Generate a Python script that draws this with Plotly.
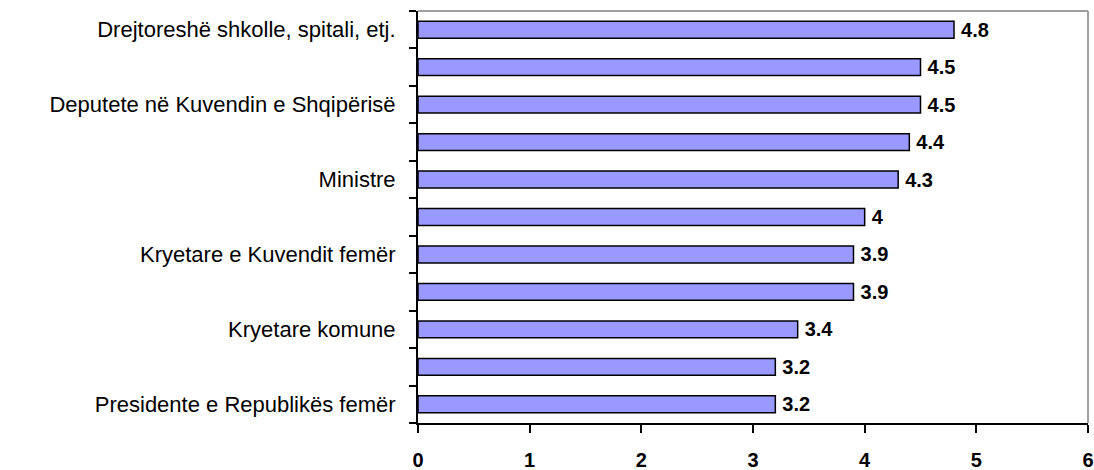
import plotly.graph_objects as go

# top-to-bottom order
labels = ["Drejtoreshë shkolle, spitali, etj.", "", "Deputete në Kuvendin e Shqipërisë", "",
          "Ministre", "", "Kryetare e Kuvendit femër", "", "Kryetare komune", "",
          "Presidente e Republikës femër"]
values = [4.8, 4.5, 4.5, 4.4, 4.3, 4.0, 3.9, 3.9, 3.4, 3.2, 3.2]
x_ticks = [0, 1, 2, 3, 4, 5, 6]

pos = list(range(len(values)))

fig = go.Figure(go.Bar(
    x=values, y=pos, orientation="h",
    width=0.45,
    marker=dict(color="#9999FF", line=dict(color="black", width=1.5)),
    text=[f"\u2009{v:g}" for v in values], textposition="outside",
    constraintext="none",
    textfont=dict(family="Liberation Sans, Arial", size=20, color="black", weight="bold"),
    cliponaxis=False,
))

fig.update_layout(
    width=1094, height=470,
    autosize=False,
    margin=dict(l=418, r=6, t=11, b=47, autoexpand=False),
    plot_bgcolor="white", paper_bgcolor="white",
    showlegend=False,
    font=dict(family="Liberation Sans, Arial", color="black"),
    shapes=[
        dict(type="line", xref="x domain", yref="y domain", x0=0, x1=1, y0=1, y1=1,
             line=dict(color="#A0A0A0", width=2), layer="above"),
        dict(type="line", xref="x domain", yref="y domain", x0=1, x1=1, y0=0, y1=1,
             line=dict(color="#A0A0A0", width=2), layer="above"),
    ],
)
fig.update_xaxes(
    range=[0, 6], tickvals=x_ticks, showgrid=False, zeroline=False,
    showline=True, linecolor="black", linewidth=2, automargin=False,
    ticks="outside", ticklen=8, tickwidth=2, tickcolor="black",
    tickfont=dict(size=20, color="black", weight="bold"),
    ticklabelstandoff=10, ticklabeloverflow="allow",
)
fig.update_yaxes(
    range=[len(values) - 0.5, -0.5], tickvals=pos, ticktext=labels,
    showgrid=False, zeroline=False, automargin=False,
    showline=True, linecolor="black", linewidth=2,
    ticks="", tickfont=dict(size=22, color="black"),
    ticklabelstandoff=16,
    minor=dict(tickvals=[i - 0.5 for i in range(len(values) + 1)], ticks="outside",
               ticklen=7, tickwidth=2, tickcolor="black", showgrid=False),
)

fig.write_html("out.html", config={"displayModeBar": False, "responsive": False},
               post_script="document.body.style.margin='0';")
